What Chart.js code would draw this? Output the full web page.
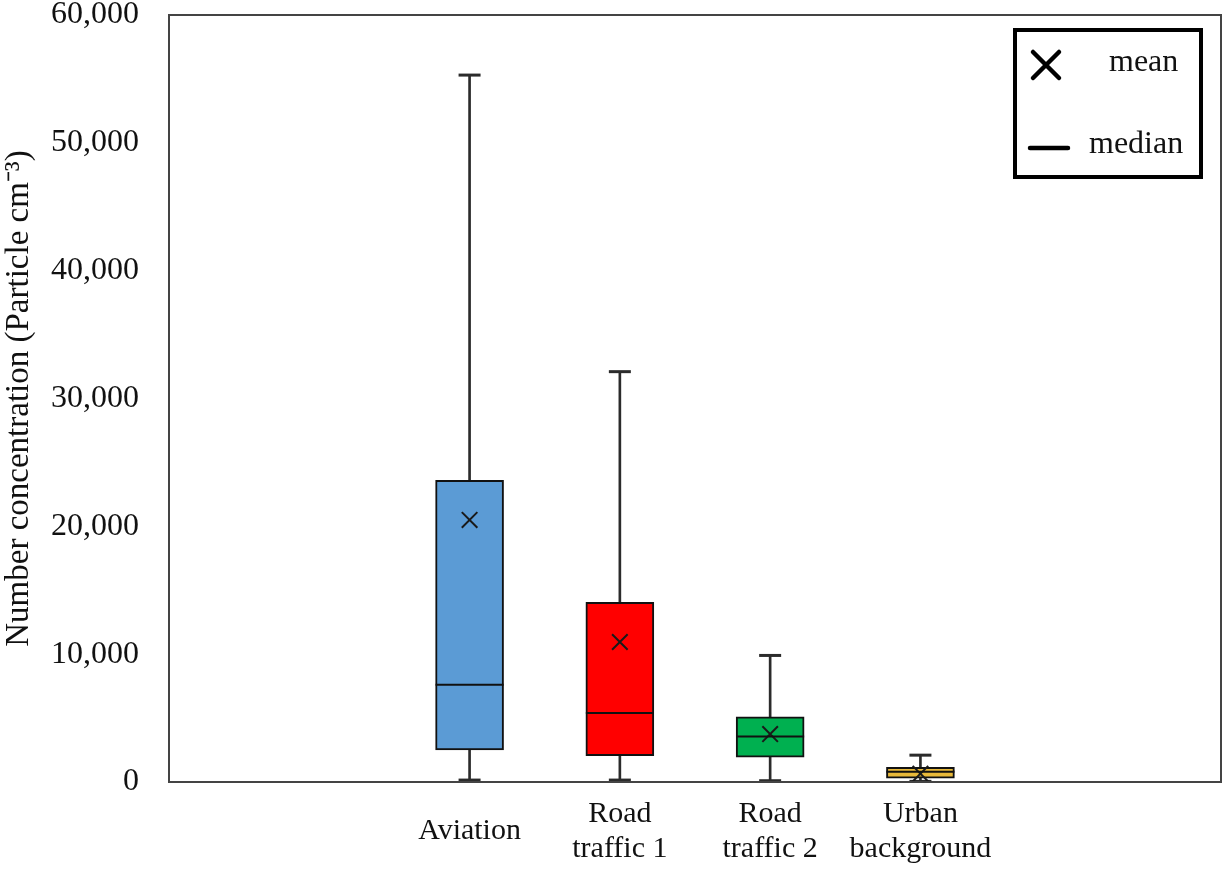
<!DOCTYPE html>
<html>
<head>
<meta charset="utf-8">
<script src="https://cdn.jsdelivr.net/npm/chart.js@4.4.1/dist/chart.umd.min.js"></script>
<style>
  html, body { margin: 0; padding: 0; background: #fff; }
  #wrap { width: 1225px; height: 874px; }
</style>
</head>
<body>
<div id="wrap"><canvas id="box-canvas"></canvas></div>
<script>
// Categories. The x axis has empty slots on both sides, as in the original figure.
const categories = ['', '', 'Aviation', ['Road', 'traffic 1'], ['Road', 'traffic 2'], ['Urban', 'background'], '', ''];

// Box plot statistics (particle cm-3). null = empty slot.
const whiskerMin = [null, null, 150, 150, 100, 50, null, null];
const quartile1  = [null, null, 2500, 2050, 1950, 300, null, null];
const medians    = [null, null, 7600, 5400, 3550, 800, null, null];
const means      = [null, null, 20500, 10950, 3750, 650, null, null];
const quartile3  = [null, null, 23600, 14050, 5100, 1150, null, null];
const whiskerMax = [null, null, 55300, 32100, 9900, 2100, null, null];

const boxColors = ['#5b9bd5', '#5b9bd5', '#5b9bd5', '#ff0000', '#00b050', '#e8b93a', '#5b9bd5', '#5b9bd5'];

const yTicks = [0, 10000, 20000, 30000, 40000, 50000, 60000];

const pair = (lo, hi) => lo.map((v, i) => (v === null ? null : [v, hi[i]]));

const serif = 'Liberation Serif, Times New Roman, serif';

// Frame round the plot area plus the mean / median key in the top right corner.
const framePlugin = {
    id: 'frame',
    afterDraw(chart) {
        const { ctx, chartArea } = chart;
        ctx.save();
        ctx.strokeStyle = '#444';
        ctx.lineWidth = 2;
        ctx.strokeRect(chartArea.left, chartArea.top, chartArea.right - chartArea.left, chartArea.bottom - chartArea.top);

        // key box
        const kx = chartArea.right - 206, ky = chartArea.top + 15, kw = 186, kh = 147;
        ctx.strokeStyle = '#000';
        ctx.lineWidth = 4;
        ctx.strokeRect(kx, ky, kw, kh);

        ctx.lineCap = 'round';
        ctx.lineWidth = 4.5;
        ctx.beginPath();
        const cx = kx + 31, cy = ky + 35, r = 13;
        ctx.moveTo(cx - r, cy - r); ctx.lineTo(cx + r, cy + r);
        ctx.moveTo(cx - r, cy + r); ctx.lineTo(cx + r, cy - r);
        ctx.moveTo(kx + 15, ky + 118); ctx.lineTo(kx + 53, ky + 118);
        ctx.stroke();

        ctx.fillStyle = '#111';
        ctx.font = '32px ' + serif;
        ctx.textBaseline = 'middle';
        ctx.textAlign = 'left';
        ctx.fillText('mean', kx + 94, ky + 33);
        ctx.fillText('median', kx + 74, ky + 115);
        ctx.restore();
    }
};

new Chart(document.getElementById('box-canvas'), {
    data: {
        labels: categories,
        datasets: [
            {
                type: 'bar', label: 'upper whisker', data: pair(quartile3, whiskerMax),
                backgroundColor: '#2b2b2b', barThickness: 2, grouped: false, order: 3
            },
            {
                type: 'bar', label: 'lower whisker', data: pair(whiskerMin, quartile1),
                backgroundColor: '#2b2b2b', barThickness: 2, grouped: false, order: 3
            },
            {
                type: 'bar', label: 'box', data: pair(quartile1, quartile3),
                backgroundColor: boxColors, borderColor: '#111', borderWidth: 2,
                borderSkipped: false, barThickness: 68, grouped: false, order: 2
            },
            {
                type: 'line', label: 'median', data: medians, showLine: false,
                pointStyle: 'line', pointRadius: 34, pointBorderWidth: 2,
                pointBorderColor: '#111', order: 1
            },
            {
                type: 'line', label: 'mean', data: means, showLine: false,
                pointStyle: 'crossRot', pointRadius: 11, pointBorderWidth: 2,
                pointBorderColor: '#1a1a1a', order: 1
            },
            {
                type: 'line', label: 'max cap', data: whiskerMax, showLine: false,
                pointStyle: 'line', pointRadius: 11, pointBorderWidth: 3,
                pointBorderColor: '#2b2b2b', order: 1, clip: false
            },
            {
                type: 'line', label: 'min cap', data: whiskerMin, showLine: false,
                pointStyle: 'line', pointRadius: 11, pointBorderWidth: 3,
                pointBorderColor: '#2b2b2b', order: 1, clip: false
            }
        ]
    },
    options: {
        responsive: true,
        maintainAspectRatio: false,
        animation: false,
        events: [],
        layout: { autoPadding: false, padding: { top: 15, right: 4, left: 0, bottom: 0 } },
        plugins: {
            legend: { display: false },
            tooltip: { enabled: false }
        },
        scales: {
            x: {
                type: 'category',
                offset: false,
                grid: { display: false },
                border: { display: false },
                ticks: {
                    autoSkip: false,
                    maxRotation: 0,
                    crossAlign: 'center',
                    padding: 24,
                    color: '#111',
                    font: { family: serif, size: 30, lineHeight: 1.17 }
                },
                afterFit(scale) {
                    scale.height = 92;
                    scale.paddingLeft = 0;
                    scale.paddingRight = 0;
                }
            },
            y: {
                min: 0,
                max: 60000,
                afterBuildTicks(scale) { scale.ticks = yTicks.map(v => ({ value: v })); },
                grid: { display: false },
                border: { display: false },
                ticks: {
                    padding: 22,
                    color: '#111',
                    font: { family: serif, size: 32 },
                    callback: v => v.toLocaleString('en-US')
                },
                title: {
                    display: true,
                    text: 'Number concentration (Particle cm\u207B\u00B3)',
                    color: '#111',
                    font: { family: serif, size: 33 },
                    padding: { top: 0, bottom: 4 }
                },
                afterFit(scale) {
                    scale.width = 169;
                    scale.paddingTop = 0;
                    scale.paddingBottom = 0;
                }
            }
        }
    },
    plugins: [framePlugin]
});
</script>
</body>
</html>
